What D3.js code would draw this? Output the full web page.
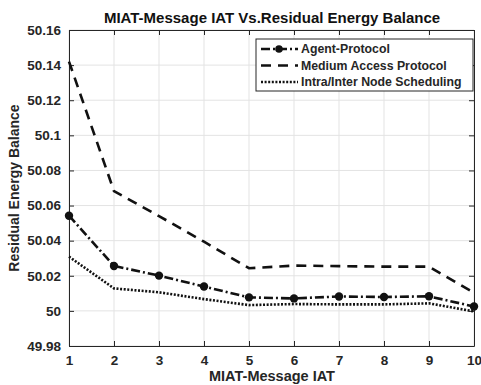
<!DOCTYPE html>
<html>
<head>
<meta charset="utf-8">
<script src="https://cdn.jsdelivr.net/npm/d3@7"></script>
<style>
  body { margin: 0; background: #fff; }
  svg { font-family: "Liberation Sans", Arial, sans-serif; font-weight: bold; }
</style>
</head>
<body>
<div id="chart"></div>
<script>
// data
const xValues = [1, 2, 3, 4, 5, 6, 7, 8, 9, 10]
const agentProtocol = [50.0542, 50.0256, 50.0201, 50.0139, 50.0077, 50.0071, 50.0082, 50.0079, 50.0083, 50.0025]
const mediumAccess = [50.142, 50.0682, 50.054, 50.0394, 50.0243, 50.0258, 50.0255, 50.0252, 50.0252, 50.0103]
const intraInter = [50.0309, 50.0128, 50.0106, 50.0067, 50.0033, 50.0039, 50.0037, 50.0037, 50.0043, 49.9997]
const yTicks = [49.98, 50, 50.02, 50.04, 50.06, 50.08, 50.1, 50.12, 50.14, 50.16]
const seriesNames = ['Agent-Protocol', 'Medium Access Protocol', 'Intra/Inter Node Scheduling']

const width = 481
const height = 385
const margin = { top: 30, right: 7, bottom: 39, left: 69 }
const axisColor = '#262626'
const gridColor = '#e3e3e3'

const svg = d3.select('#chart').append('svg')
  .attr('width', width)
  .attr('height', height)

const x = d3.scaleLinear().domain([1, 10]).range([margin.left, width - margin.right])
const y = d3.scaleLinear().domain([49.98, 50.16]).range([height - margin.bottom, margin.top])

// grid
svg.append('g').selectAll('line')
  .data(xValues)
  .enter().append('line')
    .attr('x1', d => x(d)).attr('x2', d => x(d))
    .attr('y1', y(49.98)).attr('y2', y(50.16))
    .style('stroke', gridColor)
svg.append('g').selectAll('line')
  .data(yTicks)
  .enter().append('line')
    .attr('x1', x(1)).attr('x2', x(10))
    .attr('y1', d => y(d)).attr('y2', d => y(d))
    .style('stroke', gridColor)

// axes, ticks inside like matlab
const fmt = d => d3.format('')(+d.toFixed(2))
const bottomAxis = d3.axisBottom(x).tickValues(xValues).tickSizeInner(-5).tickSizeOuter(0).tickPadding(9)
const leftAxis = d3.axisLeft(y).tickValues(yTicks).tickFormat(fmt).tickSizeInner(-5).tickSizeOuter(0).tickPadding(8)
const topAxis = d3.axisTop(x).tickValues(xValues).tickSizeInner(-5).tickSizeOuter(0).tickFormat('')
const rightAxis = d3.axisRight(y).tickValues(yTicks).tickSizeInner(-5).tickSizeOuter(0).tickFormat('')

const styleAxis = g => {
  g.selectAll('path').style('stroke', axisColor)
  g.selectAll('line').style('stroke', axisColor)
  g.selectAll('text').style('fill', axisColor).style('font-size', '13.5px').style('font-weight', 'bold')
    .style('font-family', '"Liberation Sans", Arial, sans-serif')
}
svg.append('g').attr('transform', `translate(0,${y(49.98)})`).call(bottomAxis).call(styleAxis)
svg.append('g').attr('transform', `translate(${x(1)},0)`).call(leftAxis).call(styleAxis)
svg.append('g').attr('transform', `translate(0,${y(50.16)})`).call(topAxis).call(styleAxis)
svg.append('g').attr('transform', `translate(${x(10)},0)`).call(rightAxis).call(styleAxis)

// lines
const line = d3.line().x((d, i) => x(xValues[i])).y(d => y(d))
const styles = [
  { dash: '9,3,2,3', width: 2.6 },
  { dash: '10,7', width: 2.6 },
  { dash: '2,1.6', width: 2.6 }
]
const allSeries = [agentProtocol, mediumAccess, intraInter]

svg.selectAll('.series')
  .data(allSeries)
  .enter().append('path')
    .attr('class', 'series')
    .attr('d', line)
    .style('fill', 'none')
    .style('stroke', '#111')
    .style('stroke-width', (d, i) => styles[i].width)
    .style('stroke-dasharray', (d, i) => styles[i].dash)

svg.append('g').selectAll('circle')
  .data(agentProtocol)
  .enter().append('circle')
    .attr('cx', (d, i) => x(xValues[i]))
    .attr('cy', d => y(d))
    .attr('r', 4.2)
    .style('fill', '#111')

// legend
const legend = svg.append('g').attr('transform', 'translate(256,39)')
legend.append('rect')
  .attr('width', 217).attr('height', 52)
  .style('fill', '#fff')
  .style('stroke', axisColor)
  .style('stroke-width', 1)
const rows = legend.selectAll('.row')
  .data(seriesNames)
  .enter().append('g')
    .attr('class', 'row')
    .attr('transform', (d, i) => `translate(0,${10 + i * 16.5})`)
rows.append('line')
  .attr('x1', 5).attr('x2', 42)
  .style('stroke', '#111')
  .style('stroke-width', (d, i) => styles[i].width)
  .style('stroke-dasharray', (d, i) => styles[i].dash)
rows.filter((d, i) => i == 0).append('circle')
  .attr('cx', 23).attr('r', 3.8).style('fill', '#111')
rows.append('text')
  .attr('x', 45).attr('dy', '0.35em')
  .style('font-size', '12.3px')
  .style('fill', axisColor)
  .text(d => d)

// title and labels
svg.append('text')
  .attr('x', 272).attr('y', 23)
  .attr('text-anchor', 'middle')
  .style('font-size', '15px')
  .style('fill', '#111')
  .text('MIAT-Message IAT Vs.Residual Energy Balance')
svg.append('text')
  .attr('x', 272).attr('y', 381)
  .attr('text-anchor', 'middle')
  .style('font-size', '14.5px')
  .style('fill', axisColor)
  .text('MIAT-Message IAT')
svg.append('text')
  .attr('transform', `translate(19,${(y(49.98) + y(50.16)) / 2}) rotate(-90)`)
  .attr('text-anchor', 'middle')
  .style('font-size', '14px')
  .style('fill', axisColor)
  .text('Residual Energy Balance')
</script>
</body>
</html>
